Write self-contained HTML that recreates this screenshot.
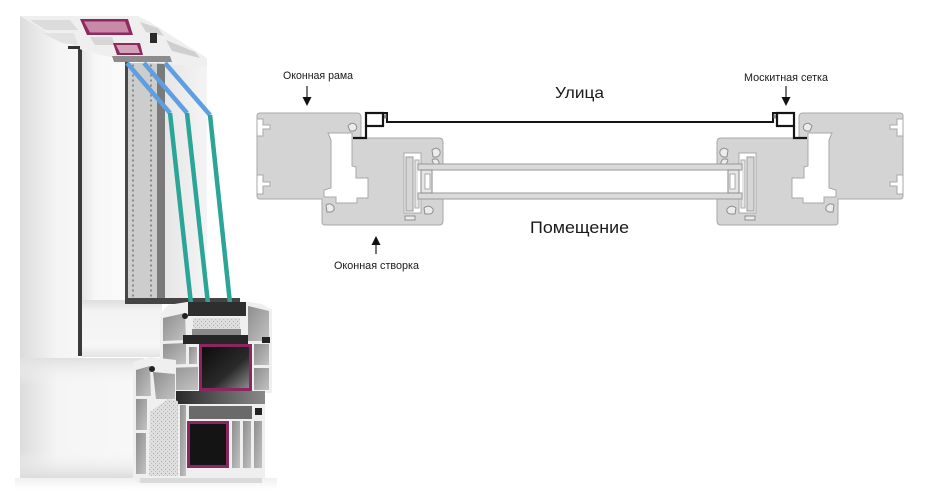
<!DOCTYPE html>
<html><head><meta charset="utf-8">
<style>
html,body{margin:0;padding:0;background:#fff;}
body{width:933px;height:495px;overflow:hidden;}
svg{display:block;}
text{font-family:"Liberation Sans",Arial,sans-serif;fill:#1a1a1a;}
</style></head>
<body>
<svg width="933" height="495" viewBox="0 0 933 495" xmlns="http://www.w3.org/2000/svg">
<defs>
  <linearGradient id="gLeft" gradientUnits="userSpaceOnUse" x1="20" y1="0" x2="146" y2="0">
    <stop offset="0" stop-color="#dcdcdc"/>
    <stop offset="0.18" stop-color="#ebebeb"/>
    <stop offset="0.3" stop-color="#f5f5f5"/>
    <stop offset="1" stop-color="#f8f8f8"/>
  </linearGradient>
  <linearGradient id="gSash" gradientUnits="userSpaceOnUse" x1="82" y1="0" x2="125" y2="0">
    <stop offset="0" stop-color="#e6e6e6"/>
    <stop offset="0.3" stop-color="#f7f7f7"/>
    <stop offset="1" stop-color="#fafafa"/>
  </linearGradient>
  <linearGradient id="gRail" x1="0" y1="0" x2="0" y2="1">
    <stop offset="0" stop-color="#dedede"/>
    <stop offset="0.2" stop-color="#f3f3f3"/>
    <stop offset="0.8" stop-color="#f6f6f6"/>
    <stop offset="1" stop-color="#e4e4e4"/>
  </linearGradient>
  <linearGradient id="gBot" x1="0" y1="0" x2="0" y2="1">
    <stop offset="0" stop-color="#f8f8f8" stop-opacity="0"/>
    <stop offset="1" stop-color="#dcdcdc"/>
  </linearGradient>
  <linearGradient id="gFloor" x1="0" y1="0" x2="0" y2="1">
    <stop offset="0" stop-color="#e6e6e6"/>
    <stop offset="1" stop-color="#ffffff"/>
  </linearGradient>
  <linearGradient id="gBevel" x1="0" y1="0" x2="0" y2="1">
    <stop offset="0" stop-color="#e0e0e0"/>
    <stop offset="1" stop-color="#f7f7f7" stop-opacity="0"/>
  </linearGradient>
  <linearGradient id="gRight" x1="0" y1="0" x2="1" y2="0">
    <stop offset="0" stop-color="#e6e6e6"/>
    <stop offset="1" stop-color="#f4f4f4"/>
  </linearGradient>
  <linearGradient id="gDark" x1="0" y1="0" x2="1" y2="1">
    <stop offset="0" stop-color="#0c0c0c"/>
    <stop offset="0.6" stop-color="#2a2a2a"/>
    <stop offset="1" stop-color="#8a8a8a"/>
  </linearGradient>
  <linearGradient id="gGap" x1="0" y1="0" x2="1" y2="0">
    <stop offset="0" stop-color="#2a2a2a"/>
    <stop offset="1" stop-color="#8a8a8a"/>
  </linearGradient>
  <linearGradient id="gCh" x1="0" y1="0" x2="1" y2="1">
    <stop offset="0" stop-color="#8e8e8e"/>
    <stop offset="1" stop-color="#c2c2c2"/>
  </linearGradient>
  <pattern id="perf" width="30" height="5" patternUnits="userSpaceOnUse" x="128" y="63">
    <rect width="30" height="5" fill="#cdcdcd"/>
    <rect x="4" y="1.5" width="2" height="2" fill="#8a8a8a"/>
    <rect x="22" y="1.5" width="2" height="2" fill="#8a8a8a"/>
  </pattern>
  <pattern id="speck" width="4" height="4" patternUnits="userSpaceOnUse">
    <rect width="4" height="4" fill="#dedede"/>
    <rect x="1" y="1" width="1" height="1" fill="#a8a8a8"/>
    <rect x="3" y="3" width="1" height="1" fill="#bcbcbc"/>
  </pattern>
</defs>

<!-- ================= LEFT PHOTO ================= -->
<rect x="15" y="478" width="262" height="12" fill="url(#gFloor)" opacity="0.6"/>
<!-- outer frame L face -->
<path d="M20,16 L78,49 L78,358 L140,358 L146,478 L20,478 Z" fill="url(#gLeft)"/>
<rect x="20" y="358" width="124" height="28" fill="url(#gBevel)"/>
<rect x="20" y="450" width="124" height="28" fill="url(#gBot)"/>
<!-- dark gasket line -->
<rect x="78" y="48" width="4" height="308" fill="#3a3a3a"/>
<!-- sash vertical leg -->
<polygon points="82,50 125,62 125,303 82,303" fill="url(#gSash)"/>
<!-- sash bottom rail -->
<rect x="82" y="300" width="80" height="57" fill="url(#gRail)"/>
<!-- spacer strip -->
<rect x="125" y="62" width="3" height="241" fill="#474747"/>
<rect x="128" y="63" width="30" height="240" fill="url(#perf)"/>
<rect x="157" y="63" width="8" height="240" fill="#7a7a7a"/>
<rect x="165" y="63" width="42" height="240" fill="url(#gRight)"/>
<rect x="125" y="298" width="115" height="6" fill="#444"/>

<!-- top face -->
<path d="M20,16 L138,16 L150,22 L207,58 L207,67 L165,64 L128,62 L82,50 L78,48 Z" fill="#efefef"/>
<polygon points="30,20 70,20 78,30 45,30" fill="#dcdcdc"/>
<polygon points="42,33 74,33 78,45 62,43" fill="#e2e2e2"/>
<polygon points="90,37 112,37 115,45 95,45" fill="#d6d6d6"/>
<polygon points="140,22 158,28 164,36 146,32" fill="#d2d2d2"/>
<polygon points="166,40 195,52 200,58 172,51" fill="#cfcfcf"/>
<polygon points="80,19 128,19 133,35 87,35" fill="#8e2a5f"/>
<polygon points="84,21.5 125,21.5 129,32.5 90,32.5" fill="#c98aa9"/>
<polygon points="113,43 140,43 143,55 117,55" fill="#8e2a5f"/>
<polygon points="116,45 137,45 140,53 120,53" fill="#d1a4ba"/>
<rect x="150" y="33" width="7" height="10" fill="#2a2a2a"/>
<polygon points="112,56 170,56 172,62 114,62" fill="#8c8c8c"/>
<rect x="68" y="46" width="12" height="3" fill="#333"/>

<!-- glass panes -->
<g stroke-width="4.5" fill="none" stroke-linecap="butt">
  <polyline points="127,63 170,113" stroke="#5d9fe0"/>
  <polyline points="144,63 187,113" stroke="#5d9fe0"/>
  <polyline points="165,63 210,115" stroke="#5d9fe0"/>
  <polyline points="170,113 193,322" stroke="#2aa597"/>
  <polyline points="187,113 210,322" stroke="#2aa597"/>
  <polyline points="210,115 232,322" stroke="#2aa597"/>
</g>

<!-- sash cross-section -->
<polygon points="160,315 168,305 187,302 250,302 262,304 272,310 272,393 160,393" fill="#efefef"/>
<polygon points="163,318 185,313 186,340 163,341" fill="url(#gCh)"/>
<polygon points="163,344 186,343 186,364 163,365" fill="url(#gCh)"/>
<polygon points="163,368 198,367 198,390 163,390" fill="url(#gCh)"/>
<polygon points="189,347 197,347 197,364 189,364" fill="url(#gCh)"/>
<polygon points="248,306 269,311 269,341 248,341" fill="url(#gCh)"/>
<rect x="254" y="344" width="15" height="21" fill="url(#gCh)"/>
<rect x="254" y="368" width="15" height="22" fill="url(#gCh)"/>
<rect x="188" y="302" width="58" height="14" fill="#2e2e2e"/>
<rect x="193" y="318" width="47" height="11" fill="url(#speck)"/>
<rect x="192" y="329" width="49" height="6" fill="#8a8a8a"/>
<rect x="183" y="335" width="65" height="9" fill="#262626"/>
<rect x="199" y="344" width="53" height="47" fill="#8c2660"/>
<rect x="202" y="347" width="47" height="41" fill="url(#gDark)"/>
<rect x="176" y="391" width="89" height="13" fill="url(#gGap)"/>
<circle cx="185" cy="316" r="3" fill="#222"/>
<rect x="262" y="337" width="8" height="6" fill="#222"/>

<!-- frame cross-section -->
<polygon points="133,362 150,357 176,360 176,404 265,404 265,478 138,483 133,478" fill="#efefef"/>
<polygon points="136,370 150,366 151,396 136,396" fill="url(#gCh)"/>
<rect x="136" y="399" width="11" height="31" fill="url(#gCh)"/>
<rect x="136" y="433" width="10" height="41" fill="url(#gCh)"/>
<polygon points="153,372 175,374 175,399 156,399" fill="url(#gCh)"/>
<polygon points="150,412 168,399 178,401 178,476 149,476" fill="url(#speck)"/>
<rect x="180" y="405" width="6" height="71" fill="url(#gCh)"/>
<rect x="189" y="406" width="63" height="13" fill="#6a6a6a"/>
<rect x="187" y="421" width="42" height="47" fill="#8c2660"/>
<rect x="190" y="424" width="36" height="41" fill="#141414"/>
<rect x="232" y="421" width="8" height="47" fill="url(#gCh)"/>
<rect x="243" y="421" width="8" height="47" fill="url(#gCh)"/>
<rect x="254" y="421" width="8" height="47" fill="url(#gCh)"/>
<circle cx="152" cy="369" r="3" fill="#222"/>
<rect x="255" y="408" width="7" height="7" fill="#222"/>
<rect x="140" y="478" width="122" height="5" fill="#dadada"/>

<!-- ================= RIGHT DIAGRAM ================= -->
<g id="asm">
  <path d="M260,113 H357 Q361,113 361,117 V138 H439 Q443,138 443,142 V221 Q443,225 439,225 H325 Q322,225 322,222 V199 H260 Q257,199 257,196 V116 Q257,113 260,113 Z" fill="#d4d4d4" stroke="#a8a8a8" stroke-width="1"/>
  <polygon points="257,119 263,119 263,125 270,125 270,129 263,129 263,136 257,136" fill="#fff" stroke="#a8a8a8" stroke-width="1"/>
  <polygon points="257,175 263,175 263,182 270,182 270,186 263,186 263,194 257,194" fill="#fff" stroke="#a8a8a8" stroke-width="1"/>
  <polygon points="328,133 352,133 352,166 356,167 356,178 368,178 368,198 357,198 357,203 336,203 336,197 324,197 324,190 331,188 331,140" fill="#fff" stroke="#a8a8a8" stroke-width="1"/>
  <g fill="#ececec" stroke="#8e8e8e" stroke-width="1">
    <path d="M348,126 q4,-5 8,-1 q2,4 -2,6 h-4 z"/>
    <path d="M432,150 q5,-4 8,1 q1,4 -3,6 h-4 z"/>
    <path d="M432,160 q5,-3 7,2 v3 h-5 z"/>
    <path d="M326,205 q5,-3 8,2 q1,4 -3,5 h-4 z"/>
    <path d="M405,207 q4,-4 8,0 v6 h-6 z"/>
    <path d="M424,208 q5,-4 9,1 q1,4 -3,5 h-5 z"/>
    <path d="M405,216 h10 v4 h-10 z"/>
  </g>
  <rect x="404" y="153" width="17" height="60" fill="#fff" stroke="#a8a8a8" stroke-width="1"/>
  <rect x="406" y="157" width="7" height="54" fill="#d6d6d6" stroke="#999" stroke-width="1"/>
  <rect x="415" y="160" width="4" height="48" fill="#e6e6e6" stroke="#aaa" stroke-width="1"/>
  <rect x="366" y="113" width="17" height="13" fill="#fff" stroke="#151515" stroke-width="2.2"/>
  <path d="M353,138 H366 V126" fill="none" stroke="#151515" stroke-width="2.2"/>
  <path d="M383,113 H387 V122 H580" fill="none" stroke="#151515" stroke-width="2"/>
  <rect x="384" y="114.5" width="2.5" height="4" fill="#888"/>
</g>
<use href="#asm" transform="translate(1160,0) scale(-1,1)"/>

<!-- glass unit -->
<rect x="418" y="170" width="324" height="23" fill="#fff"/>
<rect x="418" y="164" width="324" height="6" fill="#dadada" stroke="#9a9a9a" stroke-width="1"/>
<rect x="418" y="193" width="324" height="6" fill="#dadada" stroke="#9a9a9a" stroke-width="1"/>
<rect x="421" y="170" width="11" height="23" fill="#e6e6e6" stroke="#8a8a8a" stroke-width="1"/>
<rect x="425" y="174" width="5" height="15" fill="#fff" stroke="#9a9a9a" stroke-width="0.8"/>
<rect x="728" y="170" width="11" height="23" fill="#e6e6e6" stroke="#8a8a8a" stroke-width="1"/>
<rect x="730" y="174" width="5" height="15" fill="#fff" stroke="#9a9a9a" stroke-width="0.8"/>

<!-- arrows -->
<line x1="307" y1="86" x2="307" y2="98" stroke="#222" stroke-width="1.2"/>
<polygon points="302.5,97 311.5,97 307,106" fill="#111"/>
<line x1="786" y1="86" x2="786" y2="98" stroke="#222" stroke-width="1.2"/>
<polygon points="781.5,97 790.5,97 786,106" fill="#111"/>
<line x1="376" y1="244" x2="376" y2="254" stroke="#222" stroke-width="1.2"/>
<polygon points="371.5,245 380.5,245 376,236" fill="#111"/>

<!-- labels -->
<text x="283" y="79" font-size="11" textLength="70" lengthAdjust="spacingAndGlyphs">Оконная рама</text>
<text x="744" y="81" font-size="11" textLength="84" lengthAdjust="spacingAndGlyphs">Москитная сетка</text>
<text x="555" y="98" font-size="16" textLength="49" lengthAdjust="spacingAndGlyphs">Улица</text>
<text x="530" y="233" font-size="17" textLength="99" lengthAdjust="spacingAndGlyphs">Помещение</text>
<text x="334" y="269" font-size="11" textLength="85" lengthAdjust="spacingAndGlyphs">Оконная створка</text>
</svg>
</body></html>
